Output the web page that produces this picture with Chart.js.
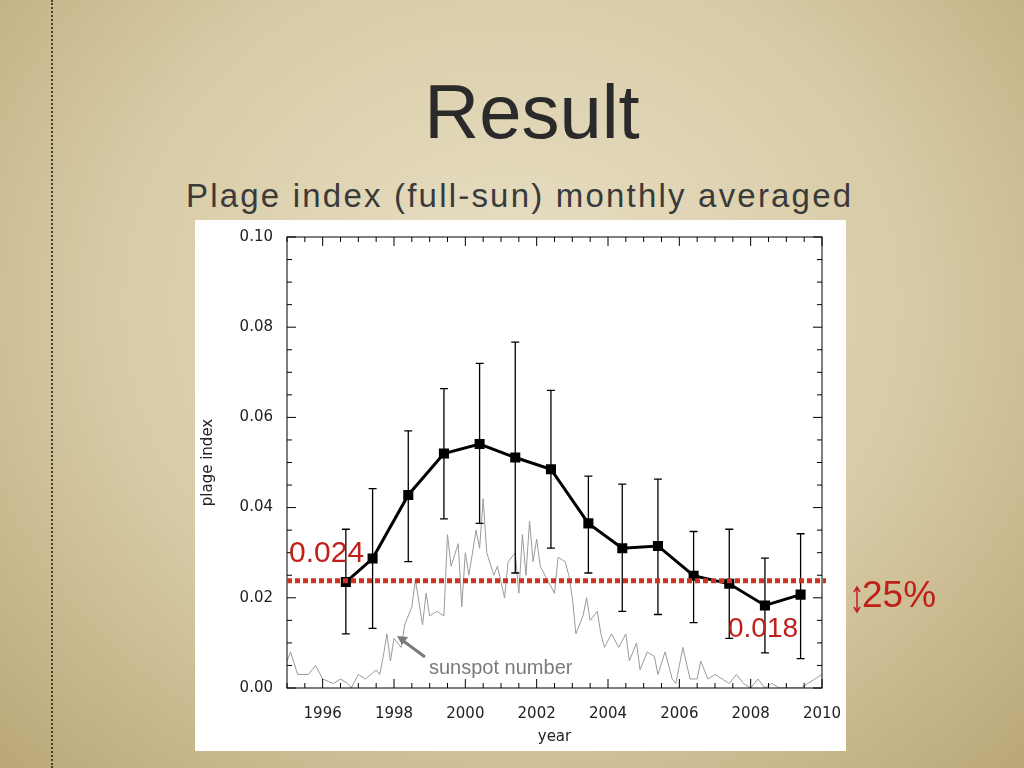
<!DOCTYPE html>
<html><head><meta charset="utf-8">
<script src="https://cdn.jsdelivr.net/npm/chart.js@4"></script>
<style>
html,body{margin:0;padding:0;width:1024px;height:768px;overflow:hidden;}
body{background:radial-gradient(ellipse at 50% 40%,#e9e0c6 0%,#d8cba6 55%,#b9a778 100%);position:relative;font-family:"Liberation Sans",Arial,sans-serif;}
#dots{position:absolute;left:51px;top:0;height:768px;border-left:2px dotted #4a4030;}
#title{position:absolute;left:0;width:1064px;top:68px;text-align:center;font-size:76px;color:#2a2a2a;}
#sub{position:absolute;left:186px;top:177px;font-size:33px;letter-spacing:2.2px;color:#3a3a3a;white-space:nowrap;}
#panel{position:absolute;left:195px;top:220px;width:651px;height:531px;background:#fff;}
canvas{position:absolute;left:0;top:0;}
</style></head><body>
<div id="dots"></div>
<div id="title">Result</div>
<div id="sub">Plage index (full-sun) monthly averaged</div>
<div id="panel"></div>
<canvas id="c" width="1024" height="768"></canvas>
<script>
const years=[1996.65,1997.4,1998.4,1999.4,2000.4,2001.4,2002.4,2003.45,2004.4,2005.4,2006.4,2007.4,2008.4,2009.4];
const plage=[0.0235,0.0287,0.0428,0.052,0.0541,0.0511,0.0485,0.0365,0.031,0.0315,0.0249,0.0231,0.0183,0.0207];
const errHigh=[0.0352,0.0442,0.057,0.0664,0.072,0.0767,0.066,0.047,0.0452,0.0463,0.0347,0.0352,0.0288,0.0342];
const errLow=[0.012,0.0132,0.028,0.0375,0.0365,0.0255,0.031,0.0255,0.017,0.0163,0.0145,0.011,0.0078,0.0065];
const ssYears=[1995.0,1995.1,1995.3,1995.6,1995.8,1996.0,1996.3,1996.5,1996.7,1996.8,1997.0,1997.2,1997.5,1997.6,1997.7,1997.8,1997.9,1998.0,1998.2,1998.3,1998.5,1998.6,1998.8,1998.9,1999.0,1999.2,1999.4,1999.5,1999.6,1999.8,1999.9,2000.0,2000.1,2000.3,2000.4,2000.5,2000.6,2000.8,2000.9,2001.1,2001.2,2001.4,2001.5,2001.6,2001.7,2001.8,2001.9,2002.0,2002.1,2002.3,2002.5,2002.6,2002.8,2002.9,2003.0,2003.1,2003.3,2003.4,2003.5,2003.7,2003.8,2003.9,2004.1,2004.3,2004.5,2004.6,2004.8,2004.9,2005.1,2005.3,2005.4,2005.6,2005.8,2005.9,2006.0,2006.1,2006.3,2006.5,2006.6,2006.8,2007.0,2007.2,2007.4,2007.6,2007.8,2008.0,2008.2,2008.4,2008.6,2008.8,2009.0,2009.2,2009.4,2009.6,2009.8,2010.0];
const sunspot=[0.006,0.008,0.003,0.003,0.005,0.002,0.001,0.002,0.001,0.0,0.003,0.002,0.004,0.003,0.007,0.012,0.006,0.011,0.009,0.014,0.018,0.024,0.014,0.021,0.016,0.017,0.016,0.034,0.027,0.032,0.018,0.03,0.025,0.035,0.031,0.042,0.03,0.025,0.027,0.02,0.028,0.03,0.021,0.034,0.025,0.037,0.028,0.033,0.027,0.024,0.021,0.029,0.028,0.025,0.02,0.012,0.016,0.02,0.015,0.017,0.012,0.009,0.012,0.009,0.012,0.006,0.01,0.004,0.008,0.007,0.003,0.008,0.002,0.001,0.005,0.009,0.002,0.002,0.006,0.002,0.003,0.002,0.001,0.003,0.001,0.0,0.002,0.0,0.001,0.0,0.0,0.0,0.0,0.001,0.002,0.003];
const xTicks=[1996,1998,2000,2002,2004,2006,2008,2010];
const yTicks=[0,0.02,0.04,0.06,0.08,0.10];
const refLevel=0.0238;

const deco={id:'deco',
 afterDatasetsDraw(ch){
  const c=ch.ctx,x=ch.scales.x,y=ch.scales.y,a=ch.chartArea;
  c.save();
  c.strokeStyle='#000';c.lineWidth=1.3;
  years.forEach((yr,i)=>{const px=x.getPixelForValue(yr),t=y.getPixelForValue(errHigh[i]),b=y.getPixelForValue(errLow[i]);
   c.beginPath();c.moveTo(px,t);c.lineTo(px,b);c.moveTo(px-4,t);c.lineTo(px+4,t);c.moveTo(px-4,b);c.lineTo(px+4,b);c.stroke();});
  c.lineWidth=1;c.strokeRect(a.left,a.top,a.right-a.left,a.bottom-a.top);
  c.beginPath();
  for(let v=0;v<=0.1001;v+=0.005){const py=y.getPixelForValue(v),L=(Math.round(v*1000)%20===0)?9:5;
   c.moveTo(a.left,py);c.lineTo(a.left+L,py);c.moveTo(a.right,py);c.lineTo(a.right-L,py);}
  for(let v=1995;v<=2010;v+=0.5){const px=x.getPixelForValue(v),L=(v%2===0)?9:5;
   c.moveTo(px,a.bottom);c.lineTo(px,a.bottom-L);c.moveTo(px,a.top);c.lineTo(px,a.top+L);}
  c.stroke();
  const ry=y.getPixelForValue(refLevel);
  c.strokeStyle='#cc3322';c.lineWidth=5;c.setLineDash([5,3]);
  c.beginPath();c.moveTo(a.left,ry);c.lineTo(a.right+4,ry);c.stroke();c.setLineDash([]);
  c.fillStyle='#c0201a';c.font='30px "Liberation Sans",Arial';c.textBaseline='alphabetic';
  c.fillText('0.024',a.left+2,ry-19);
  c.font='28px "Liberation Sans",Arial';
  c.fillText('0.018',728,ry+56);
  c.font='37px "Liberation Sans",Arial';c.fillText('25%',862,607);
  c.strokeStyle='#c0201a';c.lineWidth=1.5;c.beginPath();c.moveTo(857,588);c.lineTo(857,611);
  c.moveTo(854,592);c.lineTo(857,587);c.lineTo(860,592);c.moveTo(854,607);c.lineTo(857,612);c.lineTo(860,607);c.stroke();
  c.fillStyle='#7a7a7a';c.font='20px "Liberation Sans",Arial';c.fillText('sunspot number',429,674);
  c.strokeStyle='#7a7a7a';c.lineWidth=3;c.beginPath();c.moveTo(425,657);c.lineTo(402,640);c.stroke();
  c.fillStyle='#7a7a7a';c.beginPath();c.moveTo(397,636);c.lineTo(408,637);c.lineTo(402,645);c.fill();
  c.restore();
 }};

new Chart(document.getElementById('c'),{
 data:{datasets:[
  {type:'line',data:years.map((v,i)=>({x:v,y:plage[i]})),borderColor:'#000',backgroundColor:'#000',borderWidth:3,pointStyle:'rect',pointRadius:5,order:0},
  {type:'line',data:ssYears.map((v,i)=>({x:v,y:sunspot[i]})),borderColor:'#9a9a9a',borderWidth:1,pointRadius:0,order:1}
 ]},
 options:{responsive:false,animation:false,
  layout:{padding:{left:195,right:202,top:237,bottom:18}},
  plugins:{legend:{display:false},tooltip:{enabled:false}},
  scales:{
   x:{type:'linear',min:1995,max:2010,afterBuildTicks:s=>{s.ticks=xTicks.map(v=>({value:v}));},
      afterFit:s=>{s.height=62;},
      grid:{display:false},border:{display:false},
      ticks:{color:'#222',font:{family:'DejaVu Sans',size:15},padding:9,callback:v=>String(v),maxRotation:0},
      title:{display:true,text:'year',color:'#222',font:{family:'DejaVu Sans',size:15},padding:{top:0}}},
   y:{type:'linear',min:0,max:0.1,afterBuildTicks:s=>{s.ticks=yTicks.map(v=>({value:v}));},
      afterFit:s=>{s.width=92;},
      grid:{display:false},border:{display:false},
      ticks:{color:'#222',font:{family:'DejaVu Sans',size:15},padding:6,callback:v=>v.toFixed(2)},
      title:{display:true,text:'plage index',color:'#222',font:{family:'DejaVu Sans',size:15},padding:{bottom:4}}}
  }},
 plugins:[deco]
});
</script></body></html>
